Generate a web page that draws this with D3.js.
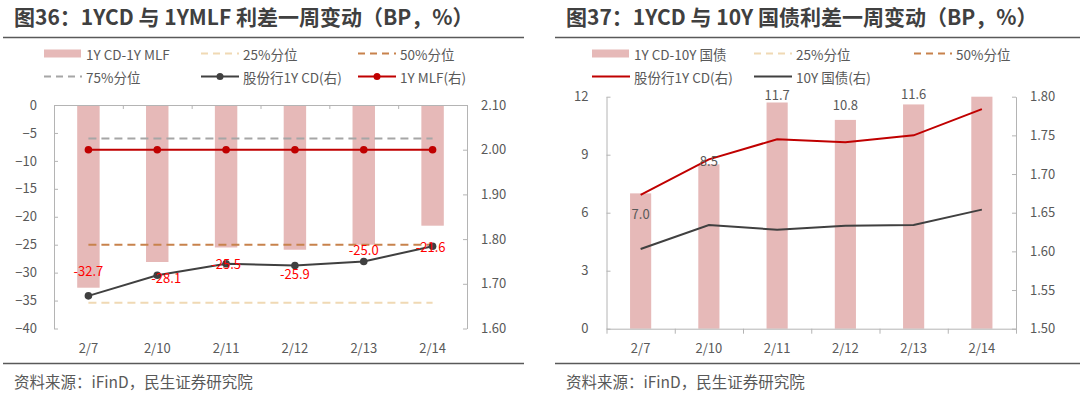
<!DOCTYPE html>
<html>
<head>
<meta charset="utf-8">
<title></title>
<script src="https://cdn.jsdelivr.net/npm/d3@7"></script>
<style>
    body { margin: 0; background: #ffffff; }
    text { font-family: "Noto Sans CJK SC", "Noto Sans", sans-serif; }
    .title { font-size: 21px; font-weight: 700; fill: #404040; }
    .axis text, .xlab { font-size: 13px; fill: #595959; }
    .legend text { font-size: 13.5px; fill: #595959; }
    .axis path, .axis line { stroke: #b4b4b4; stroke-width: 1; }
    .src { font-size: 15.5px; fill: #595959; }
    .redlab { font-size: 13px; fill: #ff0000; }
    .greylab { font-size: 13px; fill: #595959; }
</style>
</head>
<body>
<script type="text/javascript">

    // ---- data ----
    var dates = ["2/7", "2/10", "2/11", "2/12", "2/13", "2/14"];

    // chart 36 : 1Y CD - 1Y MLF (bp) and rates (%)
    var spreadMlf = [-32.7, -28.1, -25.5, -25.9, -25.0, -21.6];
    var cdRate = [1.673, 1.719, 1.745, 1.741, 1.750, 1.784];
    var mlfRate = [2.00, 2.00, 2.00, 2.00, 2.00, 2.00];
    var pctMlf = {p25: -35.4, p50: -25.0, p75: -6.0};
    var leftTicks36 = [0, -5, -10, -15, -20, -25, -30, -35, -40];
    var rightTicks36 = [2.10, 2.00, 1.90, 1.80, 1.70, 1.60];

    // chart 37 : 1Y CD - 10Y govt (bp) and rates (%)
    var spreadGov = [7.0, 8.5, 11.7, 10.8, 11.6, 13.0];
    var govRate = [1.603, 1.634, 1.628, 1.633, 1.634, 1.654];
    var leftTicks37 = [0, 3, 6, 9, 12];
    var rightTicks37 = [1.50, 1.55, 1.60, 1.65, 1.70, 1.75, 1.80];

    // label nudges (px), Excel placed these by hand
    var labShift36 = [[0, -25], [9, 2], [0, 0], [0, 8], [0, -12], [-2, 0]];
    var labShift37 = [20, -4, -8, -15, -11, 0];

    var w = 1080, h = 393,
        pink = "#e6b9b8", red = "#c00000", dark = "#404040",
        c25 = "#f0d9b4", c50 = "#c8824c", c75 = "#a6a6a6";

    var svg = d3.select("body").append("svg")
            .attr("width", w).attr("height", h);

    // ---- frame: titles, rules, source ----
    function frame(x0, x1, tx, title) {
        svg.append("text").attr("class", "title")
                .attr("x", tx).attr("y", 16).attr("dominant-baseline", "central")
                .text(title);
        [37.5, 363.5].forEach(function (y) {
            svg.append("line").attr("x1", x0).attr("x2", x1)
                    .attr("y1", y).attr("y2", y)
                    .attr("stroke", "#595959").attr("stroke-width", 1.3);
        });
        svg.append("text").attr("class", "src")
                .attr("x", tx).attr("y", 381).attr("dominant-baseline", "central")
                .text("资料来源：iFinD，民生证券研究院");
    }
    frame(3, 524, 14, "图36：1YCD 与 1YMLF 利差一周变动（BP，%）");
    frame(555, 1080, 566, "图37：1YCD 与 10Y 国债利差一周变动（BP，%）");

    // ---- legend helper ----
    function legend(items) {
        var g = svg.append("g").attr("class", "legend");
        items.forEach(function (it) {
            var y = it.y;
            if (it.type === "bar") {
                g.append("rect").attr("x", it.x).attr("y", y - 4)
                        .attr("width", 37).attr("height", 8).attr("fill", pink);
            } else {
                g.append("line").attr("x1", it.x).attr("x2", it.x + 38)
                        .attr("y1", y).attr("y2", y)
                        .attr("stroke", it.color).attr("stroke-width", 2)
                        .attr("stroke-dasharray", it.type === "dash" ? "7,5" : null);
                if (it.marker) {
                    g.append("circle").attr("cx", it.x + 19).attr("cy", y)
                            .attr("r", 3.5).attr("fill", it.color);
                }
            }
            g.append("text").attr("x", it.x + 42).attr("y", y)
                    .attr("dominant-baseline", "central").text(it.label);
        });
    }

    legend([
        {x: 44, y: 53.5, type: "bar", label: "1Y CD-1Y MLF"},
        {x: 201, y: 53.5, type: "dash", color: c25, label: "25%分位"},
        {x: 358, y: 53.5, type: "dash", color: c50, label: "50%分位"},
        {x: 44, y: 76.5, type: "dash", color: c75, label: "75%分位"},
        {x: 201, y: 76.5, type: "line", color: dark, marker: true, label: "股份行1Y CD(右)"},
        {x: 358, y: 76.5, type: "line", color: red, marker: true, label: "1Y MLF(右)"}
    ]);
    legend([
        {x: 592, y: 53.5, type: "bar", label: "1Y CD-10Y 国债"},
        {x: 754, y: 53.5, type: "dash", color: c25, label: "25%分位"},
        {x: 914, y: 53.5, type: "dash", color: c50, label: "50%分位"},
        {x: 592, y: 76.5, type: "line", color: red, label: "股份行1Y CD(右)"},
        {x: 754, y: 76.5, type: "line", color: dark, label: "10Y 国债(右)"}
    ]);

    // =================== chart 36 ===================
    (function () {
        var L = 54, R = 467, T = 105, B = 328.5;
        var x = d3.scaleBand().domain(dates).range([L, R]);
        var xEdge = d3.scaleLinear().domain([0, dates.length]).range([L, R]);
        var y = d3.scaleLinear().domain([-40, 0]).range([B, T]);
        var y2 = d3.scaleLinear().domain([1.60, 2.10]).range([B, T]);
        var cx = function (d) { return x(d) + x.bandwidth() / 2; };
        var bw = x.bandwidth() * 0.326;

        svg.append("g").selectAll("rect").data(spreadMlf).enter().append("rect")
                .attr("x", function (d, i) { return cx(dates[i]) - bw / 2; })
                .attr("y", y(0))
                .attr("width", bw)
                .attr("height", function (d) { return y(d) - y(0); })
                .attr("fill", pink);

        // axes
        svg.append("g").attr("class", "axis").attr("transform", "translate(" + L + ",0)")
                .call(d3.axisLeft(y).tickValues(leftTicks36).tickSize(-4).tickSizeOuter(0)
                        .tickPadding(17).tickFormat(d3.format("d")));
        svg.append("g").attr("class", "axis").attr("transform", "translate(" + R + ",0)")
                .call(d3.axisRight(y2).tickValues(rightTicks36).tickSize(-4).tickSizeOuter(0)
                        .tickPadding(14).tickFormat(d3.format(".2f")));
        svg.append("g").attr("class", "axis").attr("transform", "translate(0," + y(0) + ")")
                .call(d3.axisTop(xEdge).ticks(6).tickSize(-4).tickSizeOuter(0).tickFormat(""));

        svg.append("g").selectAll("text").data(dates).enter().append("text")
                .attr("class", "xlab").attr("x", cx).attr("y", 347)
                .attr("text-anchor", "middle").attr("dominant-baseline", "central")
                .text(function (d) { return d; });

        // percentile lines
        [["p75", c75], ["p50", c50], ["p25", c25]].forEach(function (p) {
            svg.append("line")
                    .attr("x1", cx(dates[0])).attr("x2", cx(dates[dates.length - 1]))
                    .attr("y1", y(pctMlf[p[0]])).attr("y2", y(pctMlf[p[0]]))
                    .attr("stroke", p[1]).attr("stroke-width", 2)
                    .attr("stroke-dasharray", "8,5");
        });

        var line = d3.line()
                .x(function (d, i) { return cx(dates[i]); })
                .y(function (d) { return y2(d); });

        [[mlfRate, red], [cdRate, dark]].forEach(function (s) {
            svg.append("path").attr("d", line(s[0]))
                    .attr("fill", "none").attr("stroke", s[1]).attr("stroke-width", 2);
            svg.append("g").selectAll("circle").data(s[0]).enter().append("circle")
                    .attr("cx", function (d, i) { return cx(dates[i]); })
                    .attr("cy", function (d) { return y2(d); })
                    .attr("r", 3.8).attr("fill", s[1]);
        });

        svg.append("g").selectAll("text").data(spreadMlf).enter().append("text")
                .attr("class", "redlab")
                .attr("x", function (d, i) { return cx(dates[i]) + labShift36[i][0]; })
                .attr("y", function (d, i) { return y2(cdRate[i]) + labShift36[i][1]; })
                .attr("text-anchor", "middle").attr("dominant-baseline", "central")
                .text(function (d) { return d.toFixed(1); });
    })();

    // =================== chart 37 ===================
    (function () {
        var L = 606.5, R = 1016, T = 96.7, B = 328.7;
        var x = d3.scaleBand().domain(dates).range([L, R]);
        var xEdge = d3.scaleLinear().domain([0, dates.length]).range([L, R]);
        var y = d3.scaleLinear().domain([0, 12]).range([B, T]).clamp(true);
        var y2 = d3.scaleLinear().domain([1.50, 1.80]).range([B, T]);
        var cx = function (d) { return x(d) + x.bandwidth() / 2; };
        var bw = x.bandwidth() * 0.31;

        svg.append("g").selectAll("rect").data(spreadGov).enter().append("rect")
                .attr("x", function (d, i) { return cx(dates[i]) - bw / 2; })
                .attr("y", function (d) { return y(d); })
                .attr("width", bw)
                .attr("height", function (d) { return y(0) - y(d); })
                .attr("fill", pink);

        svg.append("g").attr("class", "axis").attr("transform", "translate(" + L + ",0)")
                .call(d3.axisLeft(y).tickValues(leftTicks37).tickSize(-4).tickSizeOuter(0)
                        .tickPadding(18).tickFormat(d3.format("d")));
        svg.append("g").attr("class", "axis").attr("transform", "translate(" + R + ",0)")
                .call(d3.axisRight(y2).tickValues(rightTicks37).tickSize(-4).tickSizeOuter(0)
                        .tickPadding(14).tickFormat(d3.format(".2f")));
        svg.append("g").attr("class", "axis").attr("transform", "translate(0," + B + ")")
                .call(d3.axisBottom(xEdge).ticks(6).tickSize(5).tickSizeOuter(0).tickFormat(""));

        svg.append("g").selectAll("text").data(dates).enter().append("text")
                .attr("class", "xlab").attr("x", cx).attr("y", 347)
                .attr("text-anchor", "middle").attr("dominant-baseline", "central")
                .text(function (d) { return d; });

        var line = d3.line()
                .x(function (d, i) { return cx(dates[i]); })
                .y(function (d) { return y2(d); });

        [[govRate, dark], [cdRate, red]].forEach(function (s) {
            svg.append("path").attr("d", line(s[0]))
                    .attr("fill", "none").attr("stroke", s[1]).attr("stroke-width", 2);
        });

        // labels; the last bar runs off the axis so Excel drops its label
        svg.append("g").selectAll("text").data(spreadGov.filter(function (d) { return d <= 12; }))
                .enter().append("text")
                .attr("class", "greylab")
                .attr("x", function (d, i) { return cx(dates[i]); })
                .attr("y", function (d, i) { return y(d) + labShift37[i]; })
                .attr("text-anchor", "middle").attr("dominant-baseline", "central")
                .text(function (d) { return d.toFixed(1); });
    })();
</script>
</body>
</html>
